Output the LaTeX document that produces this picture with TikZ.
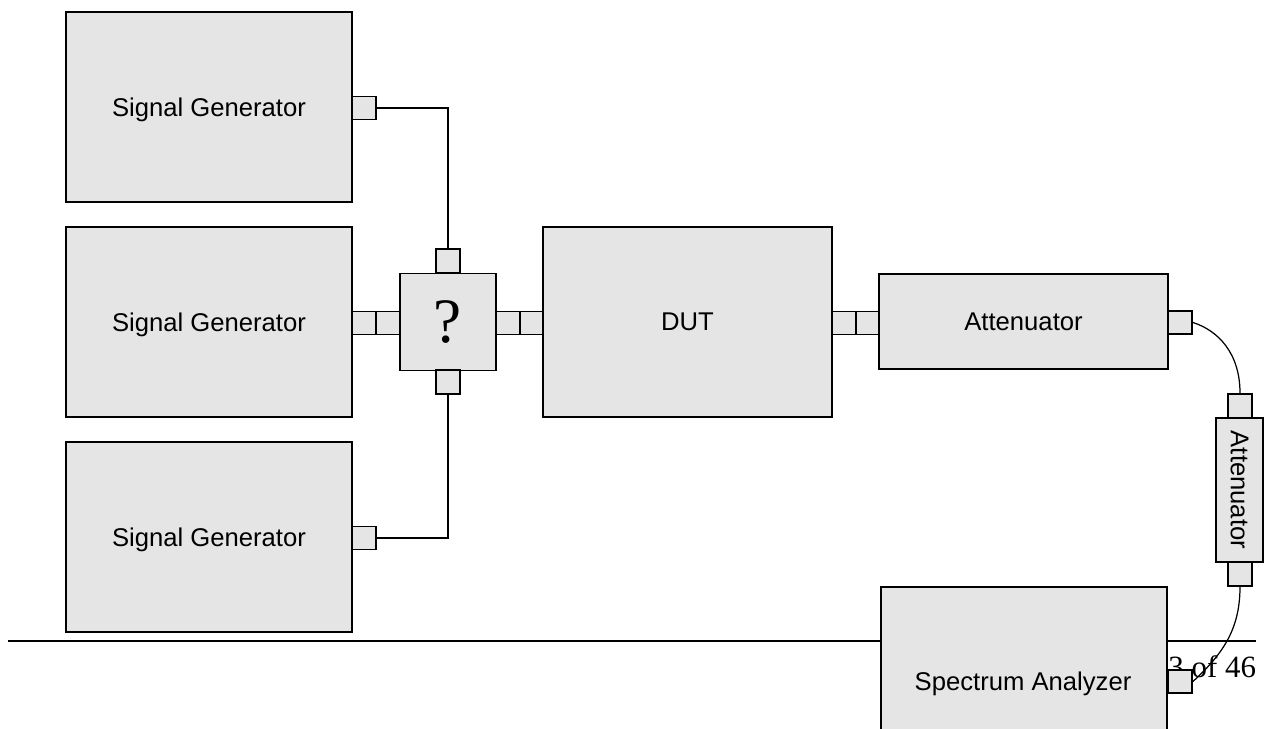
\documentclass[tikz,border=0pt]{standalone}
\usepackage{fontspec}
\setmainfont{Liberation Serif}
\newfontfamily\arialfont{Liberation Sans}
\usetikzlibrary{positioning}
\newcommand{\pxu}{0.02cm}

\begin{document}
\begin{tikzpicture}[x=0.02cm,y=-0.02cm,
  unit/.style={draw,line width=1.1pt,fill=black!10,inner sep=0pt,text depth=0pt,
    font=\arialfont\fontsize{14.6}{17}\selectfont},
  port/.style={draw,line width=1.1pt,fill=black!10,inner sep=0pt,
    minimum width=24*\pxu,minimum height=23*\pxu},
  vport/.style={port,minimum width=24*\pxu,minimum height=24*\pxu},
  wire/.style={line width=1pt},
  cable/.style={line width=0.7pt}]
  \useasboundingbox (0,0) rectangle (1270,729);
  \clip (0,0) rectangle (1270,729);
  % page rule and footer
  \coordinate (rulel) at (8,641);
  \coordinate (ruler) at (1256,641);
  \draw[line width=1.1pt] (rulel) -- (ruler);
  \node[anchor=base west,inner sep=0pt,font=\fontsize{17.6}{20}\selectfont] (pgno) at (1168,677) {3 of 46};
  % generators
  \node[unit,minimum width=286*\pxu,minimum height=190*\pxu] (sg1) at (209,107) {Signal Generator};
  \node[unit,minimum width=286*\pxu,minimum height=190*\pxu] (sg2) at (209,322) {Signal Generator};
  \node[unit,minimum width=286*\pxu,minimum height=190*\pxu] (sg3) at (209,537) {Signal Generator};
  \node[port] (sg1p) at (364,108) {};
  \node[port] (sg2pa) at (364,323) {};
  \node[port] (sg2pb) at (388,323) {};
  \node[port] (sg3p) at (364,538) {};
  % combiner
  \node[unit,minimum width=96*\pxu,minimum height=97*\pxu,font=\fontsize{36}{40}\selectfont] (comb) at (448,322) {?};
  \node[vport] (combt) at (448,261) {};
  \node[vport] (combb) at (448,382) {};
  \node[port] (combra) at (508,323) {};
  \node[port] (combrb) at (532,323) {};
  \draw[wire] (sg1p.east) -| (combt.north);
  \draw[wire] (sg3p.east) -| (combb.south);
  % DUT and attenuators
  \node[unit,minimum width=289*\pxu,minimum height=190*\pxu] (dut) at (687.5,322) {DUT};
  \node[port] (dutpa) at (844,323) {};
  \node[port] (dutpb) at (868,323) {};
  \node[unit,minimum width=289*\pxu,minimum height=95*\pxu] (att) at (1023.5,321.5) {Attenuator};
  \node[port] (attp) at (1180,322.5) {};
  \node[unit,minimum width=47*\pxu,minimum height=144*\pxu] (vatt) at (1239.5,490) {};
  \node[rotate=-90,font=\arialfont\fontsize{14.6}{17}\selectfont] (vattlbl) at (vatt.center) {Attenuator};
  \node[vport] (vattt) at (1240,406) {};
  \node[vport] (vattb) at (1240,574) {};
  \draw[cable] (attp.east) .. controls +(25,8) and +(0,-40) .. (vattt.north);
  % analyzer
  \node[unit,minimum width=286*\pxu,minimum height=190*\pxu] (sa) at (1024,682) {};
  \node[text depth=0pt,font=\arialfont\fontsize{14.6}{17}\selectfont] (salbl) at (1023,681) {Spectrum Analyzer};
  \node[port] (sap) at (1180,681.5) {};
  \draw[cable] (vattb.south) .. controls +(0,44) and +(28,-26) .. (sap.east);
\end{tikzpicture}
\end{document}
